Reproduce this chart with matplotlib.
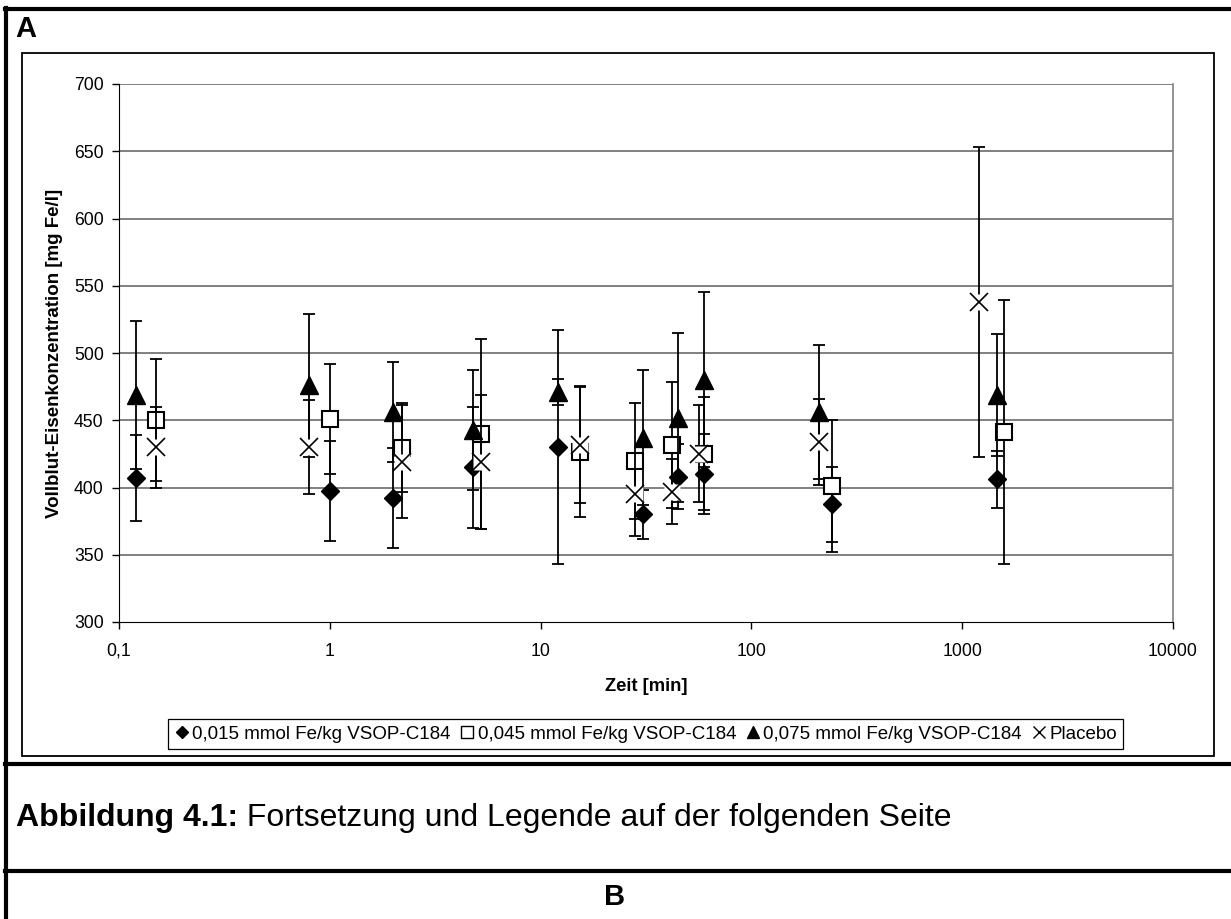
import numpy as np
import matplotlib
matplotlib.use("Agg")
import matplotlib.pyplot as plt
from matplotlib.lines import Line2D
from matplotlib.patches import Rectangle
from matplotlib.ticker import FixedLocator, NullLocator

plt.rcParams['font.family'] = ['Liberation Sans', 'DejaVu Sans']

# Mittelwerte und Standardabweichungen je Dosisgruppe
t_015 = [0.12, 1.0, 2.0, 4.8, 12.1, 30.5, 45, 59.8, 241, 1460]
fe_015 = [407, 397.5, 392, 415, 430, 380, 408, 410, 387.6, 406]
sd_015 = [32, 37, 37, 45, 87, 18.5, 24, 30, 28, 21]

t_045 = [0.15, 1.0, 2.2, 5.2, 15.3, 28, 42, 59.4, 241, 1585]
fe_045 = [450, 450.7, 429.5, 440, 426.5, 419.6, 431.4, 425, 401.2, 441.3]
sd_045 = [45.5, 41, 33, 70.6, 48.8, 43, 47, 42, 49, 98]

t_075 = [0.12, 0.8, 2.0, 4.8, 12.1, 30.5, 45, 59.8, 210, 1460]
fe_075 = [469, 476, 456, 442.6, 471, 437, 452, 480, 456, 468.6]
sd_075 = [55, 53, 37, 44.6, 10, 50, 63, 65, 50, 45.3]

t_pla = [0.15, 0.8, 2.2, 5.2, 15.3, 28, 42, 56.6, 210, 1205]
fe_pla = [430, 430, 419, 419, 431.4, 395, 397, 425, 434, 538]
sd_pla = [30, 35, 42, 49.6, 43, 31, 24, 36, 32, 115.5]

labels = ['0,015 mmol Fe/kg VSOP-C184', '0,045 mmol Fe/kg VSOP-C184',
          '0,075 mmol Fe/kg VSOP-C184', 'Placebo']

x_ticks = [0.1, 1, 10, 100, 1000, 10000]
x_ticklabels = ['0,1', '1', '10', '100', '1000', '10000']
y_ticks = [300, 350, 400, 450, 500, 550, 600, 650, 700]

W, H = 1231, 919
fig = plt.figure(figsize=(W / 100, H / 100), dpi=100)
fig.patch.set_facecolor('white')

ax = fig.add_axes([119 / W, 1 - 622 / H, (1173 - 119) / W, (622 - 84) / H])
ax.set_xscale('log')
ax.set_xlim(0.1, 10000)
ax.set_ylim(300, 700)

ax.xaxis.set_major_locator(FixedLocator(x_ticks))
ax.xaxis.set_minor_locator(NullLocator())
ax.set_xticklabels(x_ticklabels)
ax.set_yticks(y_ticks)
ax.tick_params(axis='both', direction='out', length=5, width=1, labelsize=12.7, colors='black')
ax.tick_params(axis='y', pad=6)
ax.tick_params(axis='x', pad=10)

for y in y_ticks[1:]:
    ax.axhline(y, color='#808080', lw=1.4, zorder=0.5)

ax.spines['left'].set_color('black')
ax.spines['bottom'].set_color('black')
ax.spines['top'].set_visible(False)
ax.spines['right'].set_color('#808080')
ax.spines['right'].set_linewidth(1.2)

ax.set_xlabel('Zeit [min]', fontsize=13.2, fontweight='bold', labelpad=13)
ax.set_ylabel('Vollblut-Eisenkonzentration [mg Fe/l]', fontsize=13.5, fontweight='bold', labelpad=8)

eb = dict(fmt='none', ecolor='black', elinewidth=1.3, capsize=4, capthick=1.3)

# Dosis 0,015
ax.errorbar(t_015, fe_015, yerr=sd_015, zorder=2, **eb)
ax.plot(t_015, fe_015, 'D', color='black', ms=9, zorder=2.5, ls='none')
# Dosis 0,045
ax.errorbar(t_045, fe_045, yerr=sd_045, zorder=3, **eb)
ax.plot(t_045, fe_045, 's', mfc='white', mec='black', mew=1.5, ms=12, zorder=3.5, ls='none')
# Dosis 0,075
ax.errorbar(t_075, fe_075, yerr=sd_075, zorder=4, **eb)
ax.plot(t_075, fe_075, '^', color='black', ms=13, zorder=4.5, ls='none')
# Placebo: Kreuz mit weissem Hintergrund
ax.errorbar(t_pla, fe_pla, yerr=sd_pla, zorder=5, **eb)
ax.plot(t_pla, fe_pla, 's', mfc='white', mec='none', ms=11, zorder=5.4, ls='none')
ax.plot(t_pla, fe_pla, 'x', color='black', mew=1.2, ms=13, zorder=5.5, ls='none')

handles = [
    Line2D([], [], marker='D', color='black', ls='none', ms=6),
    Line2D([], [], marker='s', mfc='white', mec='black', mew=1, ls='none', ms=8),
    Line2D([], [], marker='^', color='black', ls='none', ms=8),
    Line2D([], [], marker='x', color='black', mew=1, ls='none', ms=9),
]
leg = fig.legend(handles, labels, loc='center', bbox_to_anchor=(645.8 / W, 1 - 734 / H),
                 ncol=4, fontsize=13.5, handlelength=0.7, handletextpad=0.2,
                 columnspacing=0.55, borderpad=0.35, fancybox=False, framealpha=1,
                 edgecolor='black')
leg.get_frame().set_linewidth(0.9)

# Diagrammrahmen
fig.add_artist(Rectangle((22 / W, 1 - 756 / H), (1214 - 22) / W, (756 - 53) / H,
                         transform=fig.transFigure, fill=False, ec='black', lw=1.3))

# Tabellenlinien
def hline(y, lw=3):
    fig.add_artist(Line2D([5 / W, 1], [1 - y / H, 1 - y / H], transform=fig.transFigure,
                          color='black', lw=lw))

hline(8.5)
hline(764)
hline(871)
fig.add_artist(Line2D([6 / W, 6 / W], [0, 1 - 8 / H], transform=fig.transFigure,
                      color='black', lw=3))

fig.text(15 / W, 1 - 29 / H, 'A', fontsize=21, fontweight='bold', va='center', ha='left')
t1 = fig.text(16 / W, 1 - 818 / H, 'Abbildung 4.1:', fontsize=23, fontweight='bold',
              va='center', ha='left')
ax.annotate(' Fortsetzung und Legende auf der folgenden Seite', xy=(1, 0), xycoords=t1,
            va='bottom', ha='left', fontsize=23, annotation_clip=False)
fig.text(615 / W, 1 - 897 / H, 'B', fontsize=21, fontweight='bold', va='center', ha='center')

fig.savefig('out.png', dpi=100)
